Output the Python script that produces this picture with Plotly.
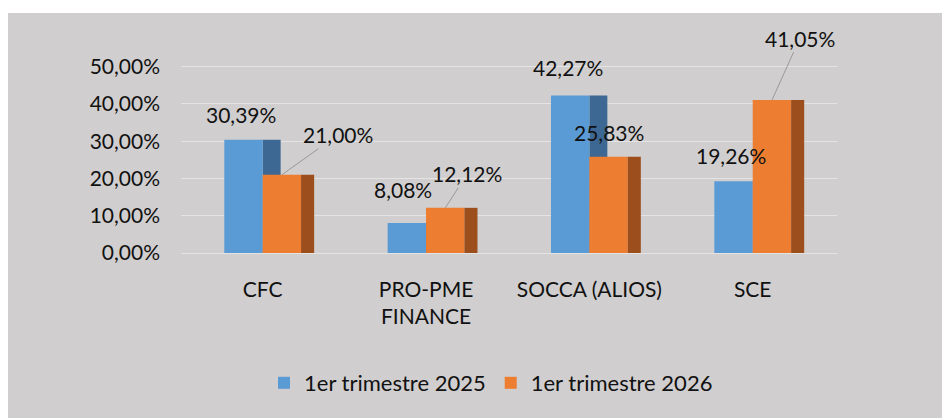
import plotly.graph_objects as go

# ---- data ----
categories = ["CFC", "PRO-PME<br>FINANCE", "SOCCA (ALIOS)", "SCE"]
series_names = ["1er trimestre 2025", "1er trimestre 2026"]
values_2025 = [0.3039, 0.0808, 0.4227, 0.1926]
values_2026 = [0.2100, 0.1212, 0.2583, 0.4105]
labels_2025 = ["30,39%", "8,08%", "42,27%", "19,26%"]
labels_2026 = ["21,00%", "12,12%", "25,83%", "41,05%"]
y_tickvals = [0, 0.1, 0.2, 0.3, 0.4, 0.5]

# ---- style ----
PAGE_OFF = 8  # default body margin of the html page
W, H = 950 - PAGE_OFF, 418 - PAGE_OFF
ML, MR, MT, MB = 173, 113, 40, 165
PW, PH = W - ML - MR, H - MT - MB
FONT = "Lato"
TXT = "#111111"
BG = "#D0CECE"
BLUE, BLUE_D = "#5B9BD5", "#3C6893"
ORANGE, ORANGE_D = "#ED7D31", "#9C4F1D"
BW = 0.235  # bar width in category units

# label offsets in px relative to bar top centre (dx, dy up), leader flag
off_2025 = [(-2, 25, False), (-4, 33, False), (-2, 28, False), (-2, 26, False)]
off_2026 = [(56, 40, True), (22, 34, True), (0, 24, False), (28, 62, True)]

fig = go.Figure()
fig.add_trace(go.Bar(x=categories, y=values_2025, offset=0.0, width=0.11,
                     marker=dict(color=BLUE_D, line=dict(width=0)),
                     showlegend=False, hoverinfo="skip"))
fig.add_trace(go.Bar(x=categories, y=values_2025, name=series_names[0], offset=-BW, width=BW,
                     marker=dict(color=BLUE, line=dict(width=0))))
fig.add_trace(go.Bar(x=categories, y=values_2026, name=series_names[1], offset=0.0, width=BW,
                     marker=dict(color=ORANGE, line=dict(width=0))))
fig.add_trace(go.Bar(x=categories, y=values_2026, offset=BW, width=0.08,
                     marker=dict(color=ORANGE_D, line=dict(width=0)),
                     showlegend=False, hoverinfo="skip"))

unit_px = PW / len(categories)
blue_c = -BW / 2 * unit_px
orange_c = BW / 2 * unit_px
LBL_FONT = dict(family=FONT, size=21, color=TXT)

annotations = []
for cat, v, lab, (dx, dy, lead) in zip(categories, values_2025, labels_2025, off_2025):
    annotations.append(dict(x=cat, y=v, text=lab, showarrow=False, xshift=blue_c + dx, yshift=dy,
                            font=LBL_FONT))
for cat, v, lab, (dx, dy, lead) in zip(categories, values_2026, labels_2026, off_2026):
    if lead:
        annotations.append(dict(x=cat, y=v, text=lab, showarrow=True, arrowhead=0, arrowwidth=1,
                                arrowcolor="#9A9A9A", ax=dx, ay=-dy, xshift=orange_c,
                                font=LBL_FONT))
    else:
        annotations.append(dict(x=cat, y=v, text=lab, showarrow=False, xshift=orange_c + dx, yshift=dy,
                                font=LBL_FONT))

# page pixel -> paper coordinates
def px_x(p):
    return (p - PAGE_OFF - ML) / PW

def px_y(p):
    return (H - MB - (p - PAGE_OFF)) / PH

shapes = [
    dict(type="rect", xref="paper", yref="paper", x0=px_x(0), x1=px_x(960), y0=px_y(0), y1=px_y(13),
         fillcolor="white", line=dict(width=0), layer="below"),
]

fig.update_layout(
    width=W, height=H,
    margin=dict(l=ML, r=MR, t=MT, b=MB, autoexpand=False),
    paper_bgcolor=BG, plot_bgcolor=BG,
    barmode="overlay",
    separators=", ",
    font=dict(family=FONT, size=21, color=TXT),
    showlegend=True,
    legend=dict(orientation="h", x=px_x(491), xanchor="center", y=px_y(383), yanchor="middle",
                font=dict(family=FONT, size=22, color=TXT), bgcolor="rgba(0,0,0,0)",
                traceorder="normal"),
    annotations=annotations,
    shapes=shapes,
    xaxis=dict(showgrid=False, showline=False, ticks="", ticklabelstandoff=22,
               tickfont=dict(family=FONT, size=21, color=TXT)),
    yaxis=dict(range=[0, 0.55], tickvals=y_tickvals, tickformat=".2%",
               showgrid=True, gridcolor="rgba(255,255,255,0.45)", gridwidth=1,
               zeroline=True, zerolinecolor="rgba(255,255,255,0.45)", zerolinewidth=1,
               showline=False, ticks="", ticklabelstandoff=20,
               tickfont=dict(family=FONT, size=21, color=TXT)),
)

fig.write_html("out.html")
